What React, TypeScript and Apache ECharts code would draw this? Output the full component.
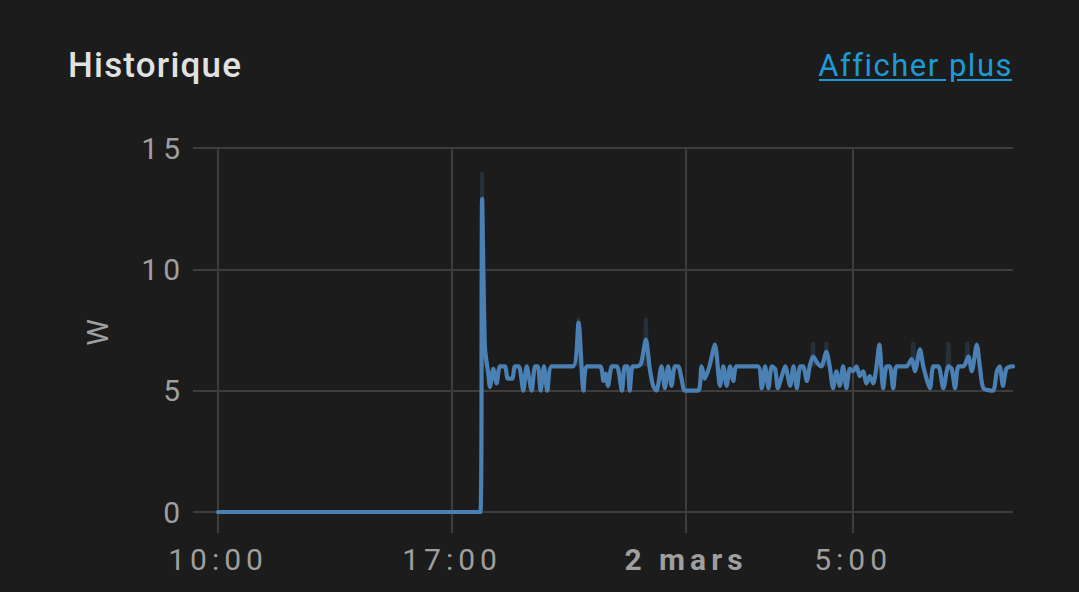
import React, { useEffect, useRef } from "react";
import * as echarts from "echarts";

// Time in minutes since 10:00 (1 March)
const minutes = [
  0, 471, 474, 479, 485, 488, 494, 500, 506, 515,
  520, 528, 533, 540, 548, 554, 563, 569, 574, 579,
  585, 591, 599, 637, 647, 656, 662, 686, 692, 696,
  700, 707, 716, 725, 730, 735, 739, 744, 751, 759,
  768, 775, 781, 787, 796, 802, 808, 814, 820, 826,
  832, 838, 862, 868, 874, 882, 892, 901, 907, 913,
  919, 925, 931, 969, 976, 982, 988, 994, 1000, 1005,
  1012, 1018, 1027, 1033, 1039, 1045, 1050, 1057, 1062, 1068,
  1077, 1083, 1092, 1098, 1104, 1110, 1116, 1122, 1128, 1134,
  1140, 1146, 1152, 1158, 1164, 1170, 1176, 1182, 1187, 1194,
  1200, 1206, 1212, 1218, 1230, 1236, 1245, 1251, 1260, 1266,
  1278, 1284, 1293, 1302, 1311, 1317, 1323, 1329, 1338, 1347,
  1353, 1362, 1368, 1374, 1391, 1398, 1403, 1409, 1415, 1424,
  1427,
];
const watts = [
  0, 0, 12.9, 6.8, 5.7, 5.15, 5.9, 5.3, 6, 6,
  5.5, 5.5, 6, 6, 5, 6, 5, 6, 6, 5,
  6, 5, 6, 6, 7.8, 5, 6, 6, 5.4, 5.7,
  5.2, 6, 6, 5, 6, 6, 5, 6, 6, 6.1,
  7.1, 5.9, 5.2, 5, 6, 5.1, 6, 5.2, 6, 6,
  5.5, 5, 5, 6, 5.5, 6, 6.9, 5.2, 6, 5.2,
  6, 5.4, 6, 6, 5.1, 6, 5.1, 6, 5.9, 5.1,
  5.6, 6, 5.2, 6, 5.1, 6, 6, 5.4, 6, 6.4,
  6.1, 6, 6.6, 6, 5.1, 5.8, 5.2, 6, 5.1, 5.9,
  5.8, 6, 5.6, 5.8, 5.3, 5.6, 5.3, 6, 6.9, 5.1,
  6, 6, 5.1, 6, 6, 6, 6.3, 5.8, 6.7, 6,
  5.1, 6, 6, 5.1, 6, 5.9, 5.1, 6, 6, 6.4,
  5.8, 6.9, 5.9, 5.1, 5, 5.8, 6, 5.2, 5.9, 6,
  6,
];

// Faint max band spikes
const bandMinutes = [474, 647, 768, 1068, 1092, 1248, 1311, 1345];
const bandMax = [14, 8, 8, 7, 7, 7, 7, 7];
const bandBase = 6;

const tickMinutes = [0, 420, 840, 1140];
const tickLabels = ["10:00", "17:00", "2 mars", "5:00"];
const boldTick = "2 mars";

const title = "Historique";
const linkText = "Afficher plus";
const unit = "W";

export default function App() {
  const ref = useRef<HTMLDivElement>(null);
  useEffect(() => {
    const el = ref.current!;
    const chart = echarts.init(el, null, { renderer: "svg" });
    const lineData = minutes.map((m, i) => [m, watts[i]]);
    const bandData: any[] = [];
    bandMinutes.forEach((m, i) => {
      bandData.push([m - 2, bandBase], [m, bandMax[i]], [m + 2, bandBase], [m + 3, "-"]);
    });
    const gray = "#9f9f9f";
    const gridColor = "#3d3d3d";
    chart.setOption({
      animation: false,
      backgroundColor: "#1c1c1c",
      textStyle: { fontFamily: "Roboto" },
      grid: { left: 193, right: 66, top: 148, bottom: 80 },
      xAxis: {
        type: "value",
        min: -45,
        max: 1427,
        axisLine: { show: false },
        axisTick: {
          show: true,
          customValues: tickMinutes,
          length: 21,
          lineStyle: { color: gridColor, width: 2 },
        },
        axisLabel: {
          customValues: tickMinutes,
          margin: 32,
          color: gray,
          fontSize: 30,
          fontFamily: "Roboto",
          formatter: (v: number) => {
            const idx = tickMinutes.indexOf(v);
            const s = idx >= 0 ? tickLabels[idx] : "";
            return s === boldTick ? "{b|" + s + "}" : s;
          },
          rich: {
            b: { fontWeight: "bold", fontSize: 30, color: gray, fontFamily: "Roboto" },
          },
        },
        splitLine: { show: true, lineStyle: { color: gridColor, width: 2 } },
      },
      yAxis: {
        type: "value",
        min: 0,
        max: 15,
        interval: 5,
        name: unit,
        nameLocation: "middle",
        nameGap: 81,
        nameTextStyle: { color: gray, fontSize: 30, fontFamily: "Roboto" },
        axisLine: { show: false },
        axisTick: { show: false },
        axisLabel: { color: gray, fontSize: 30, margin: 8, fontFamily: "Roboto" },
        splitLine: { show: true, lineStyle: { color: gridColor, width: 2 } },
      },
      graphic: [
        {
          type: "text",
          x: 68,
          y: 65,
          style: {
            text: title,
            fill: "#e1e1e1",
            fontSize: 35,
            fontWeight: 500,
            fontFamily: "Roboto",
            textAlign: "left",
            textVerticalAlign: "middle",
          },
        },
        {
          type: "text",
          x: 1013,
          y: 65,
          style: {
            text: linkText,
            fill: "#1e9ad6",
            fontSize: 31,
            fontFamily: "Roboto",
            textAlign: "right",
            textVerticalAlign: "middle",
          },
        },
        {
          type: "line",
          shape: { x1: 819, y1: 80, x2: 946, y2: 80 },
          style: { stroke: "#1e9ad6", lineWidth: 2 },
        },
        {
          type: "line",
          shape: { x1: 957, y1: 80, x2: 1012, y2: 80 },
          style: { stroke: "#1e9ad6", lineWidth: 2 },
        },
      ],
      series: [
        {
          type: "line",
          data: bandData,
          showSymbol: false,
          connectNulls: false,
          lineStyle: { color: "rgba(75,130,182,0.2)", width: 4 },
          silent: true,
          z: 1,
        },
        {
          type: "line",
          data: lineData,
          showSymbol: false,
          smooth: 0.25,
          lineStyle: { color: "#4a80b3", width: 4.2, join: "round", cap: "round" },
          z: 2,
        },
      ],
    });
    const applySpacing = () => {
      el.querySelectorAll("text").forEach((t) => {
        const s = (t.textContent || "").trim();
        (t as SVGTextElement).style.letterSpacing =
          s === title ? "1.2px" : s === linkText ? "1.5px" : "5px";
      });
    };
    applySpacing();
    chart.on("finished", applySpacing);
    return () => chart.dispose();
  }, []);
  return (
    <div
      ref={ref}
      style={{ position: "absolute", left: 0, top: 0, width: 1079, height: 592, background: "#1c1c1c" }}
    />
  );
}
